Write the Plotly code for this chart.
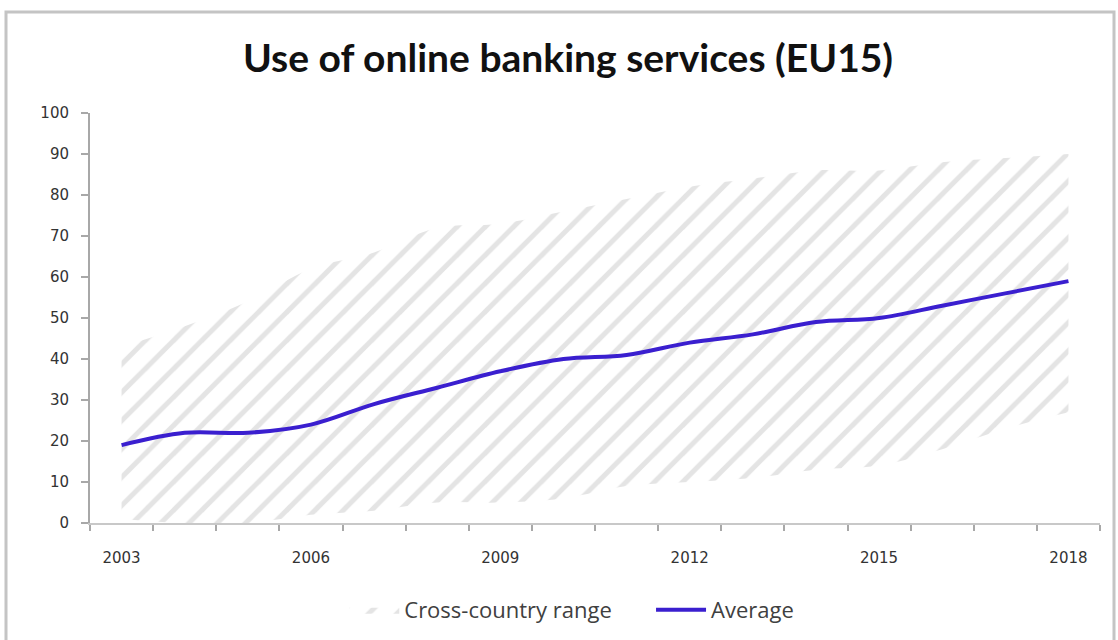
import plotly.graph_objects as go

years = list(range(2003, 2019))
range_min = [1, 0, 0, 2, 3, 5, 5, 6, 9, 10, 11, 13, 14, 18, 23, 27]
range_max = [43, 48, 54, 62, 66, 72, 73, 76, 79, 82, 84, 86, 86, 88, 89, 90]
average = [19, 22, 22, 24, 29, 33, 37, 40, 41, 44, 46, 49, 50, 53, 56, 59]
tick_years = [2003, 2006, 2009, 2012, 2015, 2018]

fig = go.Figure()
fig.add_trace(go.Scatter(
    x=years, y=range_min, mode="lines", line=dict(width=0, shape="spline"),
    showlegend=False, hoverinfo="skip"))
fig.add_trace(go.Scatter(
    x=years, y=range_max, mode="lines", line=dict(width=0, shape="spline"),
    fill="tonexty", fillcolor="rgba(0,0,0,0)",
    fillpattern=dict(shape="/", fgcolor="#c9c9c9", bgcolor="white", size=20, solidity=0.25),
    name="Cross-country range\u00a0\u00a0\u00a0\u00a0\u00a0\u00a0"))
fig.add_trace(go.Scatter(
    x=years, y=average, mode="lines", line=dict(color="#3a1fcf", width=4, shape="spline"),
    name="Average"))

L, R, T, B = 90, 18, 113, 117
W, H = 1118, 640
pw, ph = W - L - R, H - T - B
fig.add_shape(type="rect", xref="paper", yref="paper",
              x0=(6 - L) / pw, x1=(1114 - L) / pw,
              y0=-(H - T - ph + 20) / ph, y1=1 + (T - 12) / ph,
              line=dict(color="#c4c4c4", width=3), layer="below")

fig.update_layout(
    width=W, height=H,
    margin=dict(l=L, r=R, t=T, b=B, autoexpand=False),
    paper_bgcolor="white", plot_bgcolor="white",
    title=dict(text="<b>Use of online banking services (EU15)</b>", x=568 / W, xanchor="center",
               y=1 - 58 / H, yanchor="middle",
               font=dict(family="Lato", size=39, color="#111111")),
    font=dict(family="DejaVu Sans", size=15, color="#333333"),
    xaxis=dict(range=[2002.5, 2018.5], tickvals=tick_years, ticks="outside", ticklen=20,
               tickcolor="rgba(0,0,0,0)", showgrid=False, zeroline=False, automargin=False,
               showline=True, linecolor="#c8c8c8", linewidth=2,
               minor=dict(tickvals=[y - 0.5 for y in years] + [2018.5], ticks="outside",
                          ticklen=6, tickcolor="#a8a8a8", tickwidth=2)),
    yaxis=dict(range=[0, 100], dtick=10, ticks="outside", ticklen=7, tickcolor="#a8a8a8",
               tickwidth=2, showgrid=False, zeroline=False, showline=True, automargin=False,
               linecolor="#a8a8a8", linewidth=2, ticklabelstandoff=9),
    legend=dict(orientation="h", x=0.477, xanchor="center", y=-0.212, yanchor="middle",
                traceorder="normal", itemwidth=50,
                font=dict(family="Open Sans", size=22, color="#404040")),
    showlegend=True,
)

fig.write_html("out.html")
